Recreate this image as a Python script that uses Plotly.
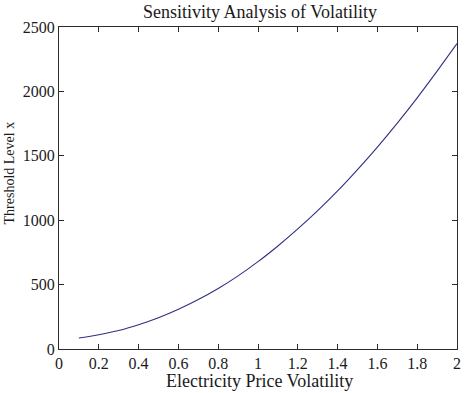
import plotly.graph_objects as go

# Data
volatility = [0.1, 0.2, 0.3, 0.4, 0.5, 0.6, 0.7, 0.8, 0.9, 1.0,
              1.1, 1.2, 1.3, 1.4, 1.5, 1.6, 1.7, 1.8, 1.9, 2.0]
threshold = [85, 111, 143, 188, 242, 308, 384, 470, 568, 678,
             800, 932, 1074, 1227, 1393, 1568, 1754, 1950, 2157, 2372]

x_ticks = [0, 0.2, 0.4, 0.6, 0.8, 1, 1.2, 1.4, 1.6, 1.8, 2]
y_ticks = [0, 500, 1000, 1500, 2000, 2500]

W, H = 472, 393
L, R, T, B = 59, 11, 27, 44
PW, PH = W - L - R, H - T - B

SERIF = "Liberation Serif, Times New Roman, serif"
AXC = "#2a2a2a"

fig = go.Figure()
fig.add_trace(go.Scatter(
    x=volatility, y=threshold, mode="lines",
    line=dict(color="#2f2f80", width=1.1, shape="spline", smoothing=0.6),
    showlegend=False, hoverinfo="skip",
))

axis_common = dict(
    showgrid=False, zeroline=False,
    showline=True, linecolor=AXC, linewidth=1, mirror="ticks",
    ticks="inside", ticklen=5, tickcolor=AXC, tickwidth=1,
    tickfont=dict(family=SERIF, size=16, color="#1a1a1a"),
)

fig.update_xaxes(range=[0, 2], tickvals=x_ticks,
                 ticktext=[f"{v:g}" for v in x_ticks], **axis_common)
fig.update_yaxes(range=[0, 2500], tickvals=y_ticks,
                 ticktext=[str(v) for v in y_ticks], **axis_common)

fig.update_layout(
    width=W, height=H,
    margin=dict(l=L, r=R, t=T, b=B, pad=0),
    paper_bgcolor="white", plot_bgcolor="white",
    title=dict(text="Sensitivity Analysis of Volatility",
               font=dict(family=SERIF, size=18, color="#1a1a1a"),
               x=(L + PW / 2) / W, xanchor="center",
               y=1 - 12 / H, yanchor="middle", yref="container"),
    annotations=[
        dict(text="Electricity Price Volatility", showarrow=False,
             xref="paper", yref="paper",
             x=(262 - L) / PW, y=-(381 - (T + PH)) / PH,
             xanchor="center", yanchor="middle",
             font=dict(family=SERIF, size=18, color="#1a1a1a")),
        dict(text="Threshold Level x", showarrow=False, textangle=-90,
             xref="paper", yref="paper",
             x=(9 - L) / PW, y=((T + PH) - 173) / PH,
             xanchor="center", yanchor="middle",
             font=dict(family=SERIF, size=14, color="#1a1a1a")),
    ],
)

fig.write_html(
    "out.html",
    config={"displayModeBar": False},
    post_script="document.body.style.margin='0';document.body.style.overflow='hidden';",
)
